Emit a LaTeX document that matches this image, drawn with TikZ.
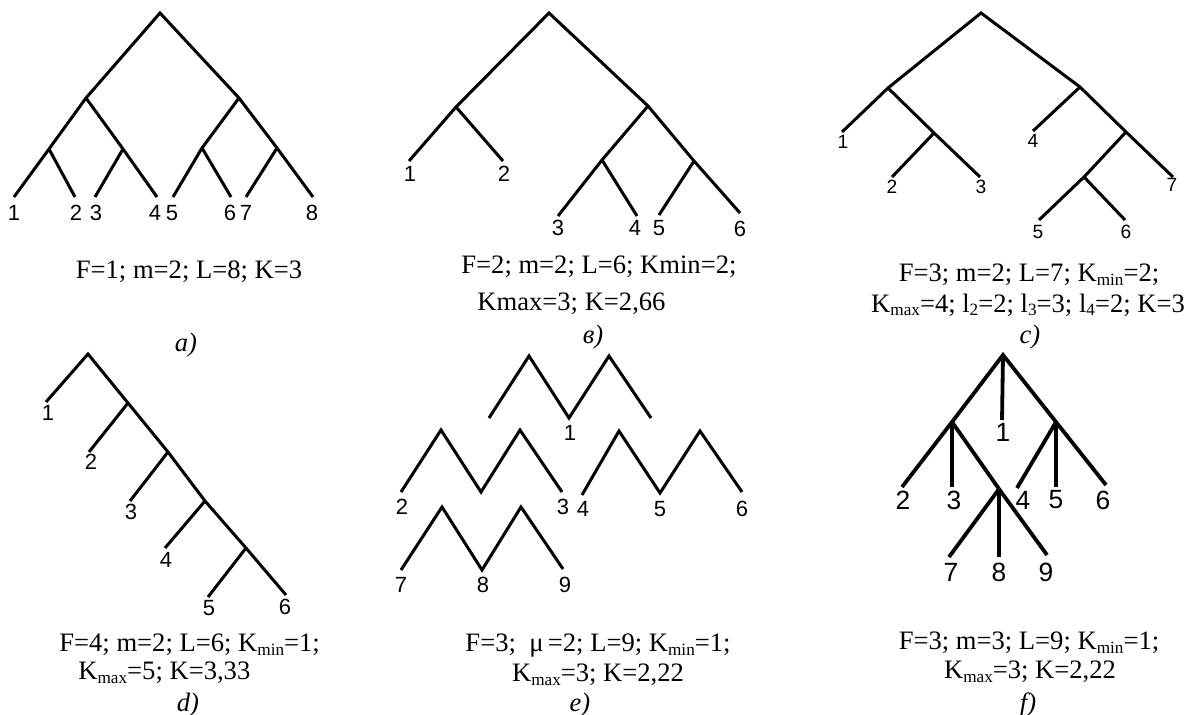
\documentclass[tikz,border=0pt]{standalone}
\usepackage{fontspec}
\setmainfont{Liberation Serif}
\newfontfamily\arialf{Liberation Sans}
\newcommand\lsub[1]{\raisebox{-0.3ex}{\fontsize{8.6}{8.6}\selectfont #1}}
\tikzset{
  br/.style={line width=1.5pt, line join=miter},
  brf/.style={line width=1.9pt, line join=miter},
  lbl/.style={font=\arialf\fontsize{11}{11}\selectfont, inner sep=0pt},
  lblc/.style={font=\arialf\fontsize{9.6}{9.6}\selectfont, inner sep=0pt},
  lblf/.style={font=\arialf\fontsize{13.2}{13.2}\selectfont, inner sep=0pt},
  capt/.style={font=\fontsize{13.3}{16}\selectfont, inner sep=0pt},
  pan/.style={font=\itshape\fontsize{13.3}{16}\selectfont, inner sep=0pt}
}
\begin{document}
\begin{tikzpicture}[x=0.5pt,y=-0.5pt]
\useasboundingbox (0,0) rectangle (1186,715);
% ---------- panel a ----------
\coordinate (a0) at (160,13);
\coordinate (a1) at (86,98);   \coordinate (a2) at (239,98);
\coordinate (a11) at (49,149); \coordinate (a12) at (123,149);
\coordinate (a21) at (202,148);\coordinate (a22) at (277,148);
\coordinate (aL1) at (14,197); \coordinate (aL2) at (75,197);
\coordinate (aL3) at (95,197); \coordinate (aL4) at (157,197);
\coordinate (aL5) at (173,197);\coordinate (aL6) at (231,197);
\coordinate (aL7) at (246,197);\coordinate (aL8) at (313,197);
\draw[br] (aL1) -- (a11) -- (a1) -- (a0) -- (a2) -- (a22) -- (aL8);
\draw[br] (a11) -- (aL2);
\draw[br] (a1) -- (a12) -- (aL4);
\draw[br] (a12) -- (aL3);
\draw[br] (a2) -- (a21) -- (aL5);
\draw[br] (a21) -- (aL6);
\draw[br] (a22) -- (aL7);
\node[lbl] (an1) at (14,213) {1};
\node[lbl] (an2) at (76,213) {2};
\node[lbl] (an3) at (96,213) {3};
\node[lbl] (an4) at (155,213) {4};
\node[lbl] (an5) at (172,213) {5};
\node[lbl] (an6) at (230,213) {6};
\node[lbl] (an7) at (246,213) {7};
\node[lbl] (an8) at (312,213) {8};
\node[capt] (acap) at (189,272) {F=1; m=2; L=8; K=3};
\node[pan] (apan) at (186,345) {a)};
% ---------- panel b ----------
\coordinate (b0) at (549,13);
\coordinate (b1) at (456,107); \coordinate (b2) at (648,106);
\coordinate (bL1) at (409,161);\coordinate (bL2) at (503,161);
\coordinate (b21) at (602,160);\coordinate (b22) at (694,161);
\coordinate (bL3) at (558,216);\coordinate (bL4) at (637,216);
\coordinate (bL5) at (659,215);\coordinate (bL6) at (740,213);
\draw[br] (bL1) -- (b1) -- (b0) -- (b2) -- (b22) -- (bL6);
\draw[br] (b1) -- (bL2);
\draw[br] (b2) -- (b21) -- (bL3);
\draw[br] (b21) -- (bL4);
\draw[br] (b22) -- (bL5);
\node[lbl] (bn1) at (410,174) {1};
\node[lbl] (bn2) at (504,174) {2};
\node[lbl] (bn3) at (558,228) {3};
\node[lbl] (bn4) at (635,228) {4};
\node[lbl] (bn5) at (659,228) {5};
\node[lbl] (bn6) at (740,229) {6};
\node[capt,anchor=west] (bcap1) at (461,267) {F=2; m=2; L=6; Kmin=2;};
\node[capt,anchor=west] (bcap2) at (477,304) {Kmax=3; K=2,66};
\node[pan] (bpan) at (593,337) {в)};
% ---------- panel c ----------
\coordinate (c0) at (981,13);
\coordinate (c1) at (888,88);  \coordinate (c2) at (1080,87);
\coordinate (cL1) at (842,132);\coordinate (c12) at (934,133);
\coordinate (cL2) at (892,177);\coordinate (cL3) at (980,177);
\coordinate (cL4) at (1033,131);\coordinate (c22) at (1126,132);
\coordinate (cL7) at (1173,177);\coordinate (c221) at (1084,177);
\coordinate (cL5) at (1039,220);\coordinate (cL6) at (1125,220);
\draw[br] (cL1) -- (c1) -- (c0) -- (c2) -- (c22) -- (cL7);
\draw[br] (c1) -- (c12) -- (cL3);
\draw[br] (c12) -- (cL2);
\draw[br] (c2) -- (cL4);
\draw[br] (c22) -- (c221) -- (cL5);
\draw[br] (c221) -- (cL6);
\node[lblc] (cn1) at (843,142) {1};
\node[lblc] (cn2) at (892,187) {2};
\node[lblc] (cn3) at (981,187) {3};
\node[lblc] (cn4) at (1033,141) {4};
\node[lblc] (cn5) at (1038,232) {5};
\node[lblc] (cn6) at (1126,232) {6};
\node[lblc] (cn7) at (1172,185) {7};
\node[capt] (ccap1) at (1029,275) {F=3; m=2; L=7; K\lsub{min}=2;};
\node[capt] (ccap2) at (1028,305) {K\lsub{max}=4; l\lsub{2}=2; l\lsub{3}=3; l\lsub{4}=2; K=3};
\node[pan] (cpan) at (1030,337) {c)};
% ---------- panel d ----------
\coordinate (d0) at (88,354);
\coordinate (dL1) at (46,402); \coordinate (d1) at (128,403);
\coordinate (dL2) at (89,452); \coordinate (d2) at (168,452);
\coordinate (dL3) at (130,501);\coordinate (d3) at (205,501);
\coordinate (dL4) at (165,548);\coordinate (d4) at (246,548);
\coordinate (dL5) at (208,597);\coordinate (dL6) at (286,595);
\draw[br] (dL1) -- (d0) -- (d1) -- (d2) -- (d3) -- (d4) -- (dL6);
\draw[br] (d1) -- (dL2);
\draw[br] (d2) -- (dL3);
\draw[br] (d3) -- (dL4);
\draw[br] (d4) -- (dL5);
\node[lbl] (dn1) at (48,413) {1};
\node[lbl] (dn2) at (91,462) {2};
\node[lbl] (dn3) at (131,512) {3};
\node[lbl] (dn4) at (166,560) {4};
\node[lbl] (dn5) at (209,608) {5};
\node[lbl] (dn6) at (285,607) {6};
\node[capt,anchor=west] (dcap1) at (59,645) {F=4; m=2; L=6; K\lsub{min}=1;};
\node[capt,anchor=west] (dcap2) at (78,673) {K\lsub{max}=5; K=3,33};
\node[pan] (dpan) at (188,705) {d)};
% ---------- panel e ----------
\coordinate (e1a) at (489,418);\coordinate (e1b) at (529,356);
\coordinate (e1c) at (569,418);\coordinate (e1d) at (609,356);
\coordinate (e1e) at (651,418);
\draw[br] (e1a) -- (e1b) -- (e1c) -- (e1d) -- (e1e);
\coordinate (e2a) at (401,492);\coordinate (e2b) at (441,430);
\coordinate (e2c) at (481,492);\coordinate (e2d) at (520,430);
\coordinate (e2e) at (562,492);
\draw[br] (e2a) -- (e2b) -- (e2c) -- (e2d) -- (e2e);
\coordinate (e3a) at (582,495);\coordinate (e3b) at (619,431);
\coordinate (e3c) at (660,493);\coordinate (e3d) at (700,431);
\coordinate (e3e) at (742,492);
\draw[br] (e3a) -- (e3b) -- (e3c) -- (e3d) -- (e3e);
\coordinate (e4a) at (401,570);\coordinate (e4b) at (442,507);
\coordinate (e4c) at (482,570);\coordinate (e4d) at (521,507);
\coordinate (e4e) at (563,569);
\draw[br] (e4a) -- (e4b) -- (e4c) -- (e4d) -- (e4e);
\node[lbl] (en1) at (570,433) {1};
\node[lbl] (en2) at (402,507) {2};
\node[lbl] (en3) at (563,507) {3};
\node[lbl] (en4) at (583,509) {4};
\node[lbl] (en5) at (660,509) {5};
\node[lbl] (en6) at (742,509) {6};
\node[lbl] (en7) at (401,585) {7};
\node[lbl] (en8) at (483,585) {8};
\node[lbl] (en9) at (565,585) {9};
\node[capt] (ecap1) at (598,646) {F=3; \ μ\,=2; L=9; K\lsub{min}=1;};
\node[capt] (ecap2) at (598,675) {K\lsub{max}=3; K=2,22};
\node[pan] (epan) at (580,705) {e)};
% ---------- panel f ----------
\coordinate (f0) at (1003,355);
\coordinate (fL1) at (1002,420);
\coordinate (f1) at (952,422);  \coordinate (f2) at (1056,422);
\coordinate (fL2) at (902,487); \coordinate (fL3) at (952,487);
\coordinate (f13) at (999,489);
\coordinate (fL4) at (1017,488);\coordinate (fL5) at (1056,487);
\coordinate (fL6) at (1106,485);
\coordinate (fL7) at (949,557); \coordinate (fL8) at (999,557);
\coordinate (fL9) at (1047,555);
\draw[brf] (fL2) -- (f1) -- (f0) -- (f2) -- (fL6);
\draw[brf] (f0) -- (fL1);
\draw[brf] (f1) -- (fL3);
\draw[brf] (f1) -- (f13);
\draw[brf] (f2) -- (fL4);
\draw[brf] (f2) -- (fL5);
\draw[brf] (f13) -- (fL7);
\draw[brf] (f13) -- (fL8);
\draw[brf] (f13) -- (fL9);
\node[lblf] (fn1) at (1003,432) {1};
\node[lblf] (fn2) at (903,500) {2};
\node[lblf] (fn3) at (954,500) {3};
\node[lblf] (fn4) at (1023,500) {4};
\node[lblf] (fn5) at (1056,500) {5};
\node[lblf] (fn6) at (1103,500) {6};
\node[lblf] (fn7) at (951,572) {7};
\node[lblf] (fn8) at (999,572) {8};
\node[lblf] (fn9) at (1046,572) {9};
\node[capt] (fcap1) at (1029,643) {F=3; m=3; L=9; K\lsub{min}=1;};
\node[capt] (fcap2) at (1030,672) {K\lsub{max}=3; K=2,22};
\node[pan] (fpan) at (1028,705) {f)};
\end{tikzpicture}
\end{document}
